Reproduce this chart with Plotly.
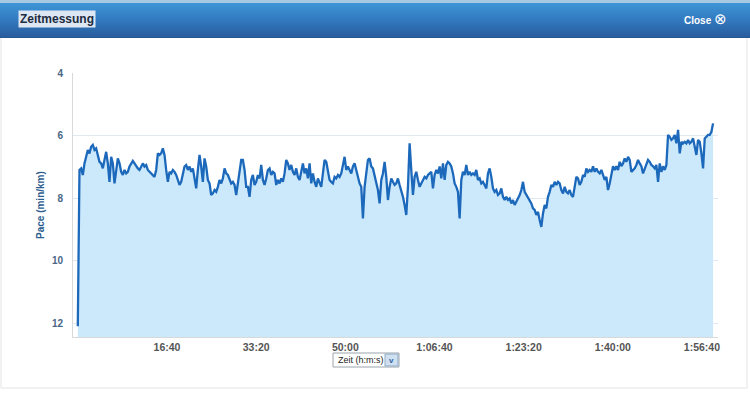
import plotly.graph_objects as go

# ---------------- data ----------------
SAMPLE_S = 18.7  # recording interval in seconds

pace_min_per_km = [
    12.10, 7.10, 7.05, 7.26, 6.89, 6.68, 6.46, 6.57, 6.36, 6.30, 6.46, 6.41, 6.68, 6.84, 6.89, 7.05,
    6.78, 6.52, 6.89, 7.48, 6.68, 6.89, 7.53, 7.10, 6.73, 6.89, 7.16, 7.26, 7.10, 7.21, 7.16, 6.99,
    6.89, 6.81, 6.89, 6.99, 7.05, 7.10, 6.99, 6.89, 6.99, 6.94, 7.10, 7.16, 7.21, 7.26, 7.32, 7.10,
    6.57, 6.62, 6.57, 6.41, 6.62, 7.10, 7.48, 7.16, 7.21, 7.10, 7.16, 7.26, 7.42, 7.58, 7.48, 7.21,
    6.99, 6.94, 7.10, 6.99, 7.16, 7.05, 7.37, 7.69, 7.10, 6.62, 6.99, 7.48, 6.73, 6.99, 7.42, 7.53,
    7.90, 7.85, 7.74, 7.80, 7.64, 7.42, 7.53, 7.37, 7.05, 7.21, 7.26, 7.42, 7.53, 7.48, 7.58,
    # segment 2
    7.90, 7.53, 7.10, 6.78, 6.78, 7.10, 7.64, 7.64, 7.96, 7.42, 7.26, 7.58, 7.48, 7.26, 7.37, 6.94,
    7.42, 7.58, 7.37, 7.10, 7.05, 7.26, 7.16, 7.21, 7.58, 7.42, 7.53, 7.37, 7.48, 7.21, 6.78, 6.89,
    7.10, 6.94, 7.16, 7.26, 7.05, 7.32, 7.42, 7.10, 6.89, 7.21, 7.05, 7.37, 6.89, 7.53, 7.21, 7.48,
    7.64, 7.37, 7.48, 7.64, 7.21, 6.78, 6.84, 7.16, 7.42, 7.48, 7.53, 7.32, 7.37, 7.26, 7.32, 7.21,
    6.89, 6.68, 7.10, 6.99, 7.10, 7.21, 6.99, 6.89, 7.10, 7.32, 7.53, 7.64, 8.65, 7.64, 7.10, 6.78,
    6.73, 6.99, 7.05, 7.26, 7.53, 7.74, 8.17, 7.42, 7.21, 6.84, 7.32, 8.06, 7.64, 7.37, 7.48, 7.58,
    # segment 3
    7.53, 7.37, 7.58, 7.74, 7.96, 8.22, 8.54, 7.64, 6.25, 7.10, 7.90, 7.32, 7.16, 7.42, 7.64, 7.53,
    7.42, 7.32, 7.37, 7.26, 7.21, 7.16, 7.69, 7.26, 7.10, 7.21, 6.99, 7.37, 6.89, 7.42, 6.94, 6.84,
    6.89, 6.99, 7.21, 7.53, 7.64, 7.80, 8.65, 7.42, 7.16, 7.26, 6.94, 7.26, 7.16, 7.26, 7.21, 7.26,
    7.10, 7.42, 7.37, 7.53, 7.48, 7.58, 7.69, 7.21, 7.05, 7.32, 7.69, 7.80, 7.74, 7.90, 7.85, 7.69,
    7.96, 8.06, 7.96, 8.06, 8.01, 8.17, 8.06, 8.22, 8.12, 8.01, 7.90, 7.74, 7.48, 7.80, 7.90, 7.96,
    8.06, 8.17, 8.33, 8.38, 8.54, 8.44, 8.70, 8.92, 8.49, 8.22, 8.33, 7.96, 7.80, 7.58, 7.64, 7.48,
    # segment 4
    7.58, 7.48, 7.53, 7.74, 7.85, 7.64, 7.80, 7.85, 7.74, 7.90, 7.96, 7.69, 7.32, 7.37, 7.58, 7.48,
    7.26, 7.32, 7.05, 7.16, 7.10, 7.16, 6.98, 7.16, 7.05, 7.16, 7.21, 7.10, 7.26, 7.42, 7.32, 7.74,
    7.53, 7.26, 6.98, 7.10, 6.98, 7.10, 6.84, 6.98, 6.89, 6.73, 6.84, 6.68, 6.78, 7.16, 7.10, 7.05,
    6.94, 6.78, 6.89, 6.98, 7.21, 7.05, 6.89, 6.78, 6.84, 6.94, 6.98, 7.05, 6.94, 7.48, 6.89, 7.16,
    6.98, 7.10, 6.94, 5.98, 6.04, 6.14, 6.09, 5.98, 6.25, 5.82, 6.57, 6.20, 6.25, 6.20, 6.25, 6.14,
    6.25, 6.20, 6.09, 6.41, 6.62, 6.14, 6.20, 6.57, 7.05, 6.09, 6.04, 5.98, 5.98, 5.88, 5.61,
]

elapsed_s = [i * SAMPLE_S for i in range(len(pace_min_per_km))]

tick_seconds = [1000, 2000, 3000, 4000, 5000, 6000, 7000]
tick_labels = ["16:40", "33:20", "50:00", "1:06:40", "1:23:20", "1:40:00", "1:56:40"]
pace_ticks = [4, 6, 8, 10, 12]

PACE_AXIS_BOTTOM = 12.44
PACE_AXIS_TOP = 4
TIME_RANGE = [-54, 7180]

# ---------------- geometry helpers ----------------
W, H = 750, 396
ML, MR, MT, MB = 73, 32, 73, 59
PW, PH = W - ML - MR, H - MT - MB


def px(x):
    return (x - ML) / PW


def py(y):
    return (H - MB - y) / PH


fig = go.Figure()

# baseline for the area fill
fig.add_trace(go.Scatter(
    x=[elapsed_s[0], elapsed_s[-1]], y=[PACE_AXIS_BOTTOM, PACE_AXIS_BOTTOM],
    mode="lines", line=dict(width=0, color="rgba(0,0,0,0)"),
    hoverinfo="skip", showlegend=False))

fig.add_trace(go.Scatter(
    x=elapsed_s, y=pace_min_per_km, mode="lines",
    line=dict(color="#1c68bb", width=2.3),
    fill="tonexty", fillcolor="#cce9fb",
    hoverinfo="skip", showlegend=False))

shapes = []
# dialog frame
shapes.append(dict(type="rect", xref="paper", yref="paper",
                   x0=px(1), x1=px(747), y0=py(388), y1=py(0),
                   line=dict(color="#e4e4e4", width=1), fillcolor="rgba(0,0,0,0)",
                   layer="below"))
# header gradient
shapes.append(dict(type="rect", xref="paper", yref="paper",
                   x0=px(0), x1=px(750), y0=py(3), y1=py(0),
                   line=dict(width=0), fillcolor="#a9c8e2", layer="below"))
top_c = (62, 150, 214)
mid_c = (52, 124, 194)
bot_c = (40, 92, 158)
y_start, y_mid, y_end = 3, 18, 37
for yy in range(y_start, y_end):
    if yy < y_mid:
        f = (yy - y_start) / (y_mid - y_start)
        c = tuple(int(top_c[k] + (mid_c[k] - top_c[k]) * f) for k in range(3))
    else:
        f = (yy - y_mid) / (y_end - y_mid)
        c = tuple(int(mid_c[k] + (bot_c[k] - mid_c[k]) * f) for k in range(3))
    shapes.append(dict(type="rect", xref="paper", yref="paper",
                       x0=px(0), x1=px(750), y0=py(yy + 1), y1=py(yy),
                       line=dict(width=0), fillcolor="rgb(%d,%d,%d)" % c, layer="below"))
shapes.append(dict(type="rect", xref="paper", yref="paper",
                   x0=px(0), x1=px(750), y0=py(38), y1=py(37),
                   line=dict(width=0), fillcolor="#2a5690", layer="below"))

# dropdown box
shapes.append(dict(type="rect", xref="paper", yref="paper",
                   x0=px(333), x1=px(399), y0=py(367), y1=py(353),
                   line=dict(color="#9aa4ae", width=1), fillcolor="white"))
shapes.append(dict(type="rect", xref="paper", yref="paper",
                   x0=px(385), x1=px(398), y0=py(366), y1=py(354),
                   line=dict(color="#8fa9c4", width=1), fillcolor="#cfe0f1"))

annotations = [
    dict(text="<b>Zeitmessung</b>", xref="paper", yref="paper",
         x=px(18), y=py(19), xanchor="left", yanchor="middle", showarrow=False,
         font=dict(family="Liberation Sans, Arial, sans-serif", size=12, color="#1c2b40"),
         bgcolor="#dde7f3", borderpad=1),
    dict(text="<b>Close</b> <span style='font-size:15px'>⊗</span>", xref="paper", yref="paper",
         x=px(729), y=py(19), xanchor="right", yanchor="middle", showarrow=False,
         font=dict(family="Liberation Sans, Arial, sans-serif", size=10, color="white")),
    dict(text="<b>Pace (min/km)</b>", xref="paper", yref="paper",
         x=px(40), y=py(205), xanchor="center", yanchor="middle", showarrow=False,
         textangle=-90,
         font=dict(family="Liberation Sans, Arial, sans-serif", size=10, color="#2c5d8f")),
    dict(text="Zeit (h:m:s)", xref="paper", yref="paper",
         x=px(336), y=py(360), xanchor="left", yanchor="middle", showarrow=False,
         font=dict(family="Liberation Sans, Arial, sans-serif", size=9, color="#222")),
    dict(text="<b>v</b>", xref="paper", yref="paper",
         x=px(391.5), y=py(360), xanchor="center", yanchor="middle", showarrow=False,
         font=dict(family="Liberation Sans, Arial, sans-serif", size=8, color="#2f65a6")),
]

fig.update_layout(
    width=W, height=H,
    margin=dict(l=ML, r=MR, t=MT, b=MB, pad=0),
    paper_bgcolor="white", plot_bgcolor="white",
    showlegend=False, hovermode=False,
    shapes=shapes, annotations=annotations,
    xaxis=dict(range=TIME_RANGE, tickvals=tick_seconds, ticktext=tick_labels,
               showgrid=False, zeroline=False, showline=True, linecolor="#d9d9d9",
               ticks="", fixedrange=True,
               tickfont=dict(family="Liberation Sans, Arial, sans-serif", size=10.5,
                             color="#555555", weight="bold")),
    yaxis=dict(range=[PACE_AXIS_BOTTOM, PACE_AXIS_TOP], tickvals=pace_ticks,
               showgrid=True, gridcolor="rgba(70,120,160,0.16)", gridwidth=1,
               layer="above traces",
               zeroline=False, showline=True, linecolor="#d9d9d9",
               ticks="", ticklabelstandoff=7, fixedrange=True,
               tickfont=dict(family="Liberation Sans, Arial, sans-serif", size=10,
                             color="#4a6686", weight="bold")),
)

fig.write_html("out.html", config={"displayModeBar": False},
               post_script="document.body.style.margin='0';document.body.style.padding='0';")
